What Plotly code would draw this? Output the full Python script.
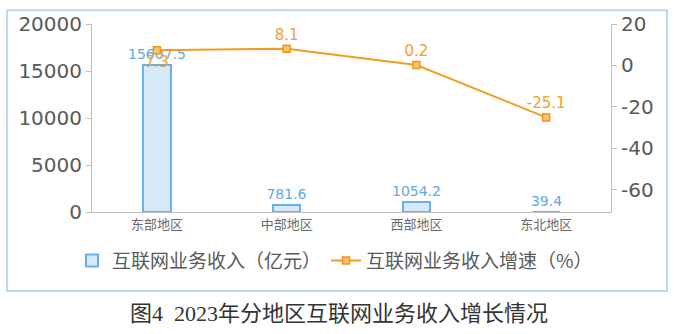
import plotly.graph_objects as go

categories = ["东部地区", "中部地区", "西部地区", "东北地区"]
revenue = [15607.5, 781.6, 1054.2, 39.4]
growth = [7.3, 8.1, 0.2, -25.1]
left_ticks = [0, 5000, 10000, 15000, 20000]
left_tick_labels = ["0", "5000", "10000", "15000", "20000"]
right_ticks = [-60, -40, -20, 0, 20]
right_tick_labels = ["-60", "-40", "-20", "0", "20"]
bar_name = "互联网业务收入（亿元）"
line_name = "互联网业务收入增速（%）"
title_text = "图4  2023年分地区互联网业务收入增长情况"

W, H = 674, 334
L, R, T, B = 92, 611, 19, 212  # plot area in pixels


def px_x(x):
    return (x - L) / (R - L)


def px_y(y):
    return (B - y) / (B - T)


fig = go.Figure()
fig.add_trace(go.Bar(
    x=categories, y=revenue, name=bar_name, width=0.21,
    marker=dict(color="#d7eaf9", line=dict(color="#6cb0e8", width=2)),
    text=[f"{v}" for v in revenue], textposition="outside", cliponaxis=False,
    constraintext="none",
    textfont=dict(family="DejaVu Sans", size=14, color="#5fa8e2"),
))
fig.add_trace(go.Scatter(
    x=categories, y=growth, name=line_name, yaxis="y2",
    mode="lines+markers+text",
    line=dict(color="#f39c1f", width=2),
    marker=dict(symbol="square", size=7, color="#fcc46e", line=dict(color="#f29417", width=1.5)),
    text=[f"{v}" for v in growth],
    textposition=["bottom center", "top center", "top center", "top center"],
    textfont=dict(family="DejaVu Sans", size=15, color="#f0a030"),
    cliponaxis=False,
))

fig.update_layout(
    width=W, height=H, autosize=False,
    margin=dict(l=L, r=W - R, t=T, b=H - B, pad=0),
    paper_bgcolor="white", plot_bgcolor="white",
    showlegend=True,
    bargap=0,
    xaxis=dict(showline=True, linecolor="#bfbfbf", linewidth=1, ticks="",
               tickfont=dict(family="Noto Sans CJK SC", size=13, color="#6a6a6a"),
               showgrid=False, zeroline=False),
    yaxis=dict(range=[0, 20000], tickmode="array", tickvals=left_ticks, ticktext=left_tick_labels,
               showline=True, linecolor="#bfbfbf", linewidth=1,
               ticks="outside", ticklen=5, tickcolor="#bfbfbf", showgrid=False, zeroline=False,
               tickfont=dict(family="DejaVu Sans", size=20, color="#595959")),
    yaxis2=dict(range=[-70.8, 20], tickmode="array", tickvals=right_ticks, ticktext=right_tick_labels,
                overlaying="y", side="right", showline=True,
                linecolor="#bfbfbf", linewidth=1, ticks="outside", ticklen=5, tickcolor="#bfbfbf",
                showgrid=False, zeroline=False,
                tickfont=dict(family="DejaVu Sans", size=20, color="#595959")),
    legend=dict(orientation="h", x=px_x(72), y=px_y(262), xanchor="left", yanchor="middle",
                font=dict(family="Noto Sans CJK SC", size=19, color="#595959"),
                bgcolor="rgba(0,0,0,0)", itemwidth=30, traceorder="normal"),
    shapes=[dict(type="rect", xref="paper", yref="paper",
                 x0=px_x(7), x1=px_x(667), y0=px_y(293), y1=px_y(5),
                 line=dict(color="#bcd8f2", width=2), fillcolor="rgba(0,0,0,0)", layer="below")],
    annotations=[dict(text=title_text, xref="paper", yref="paper", x=px_x(339), y=px_y(316),
                      xanchor="center", yanchor="middle", showarrow=False,
                      font=dict(family="Liberation Serif, Noto Sans CJK SC", size=22, color="#333333"))],
)

fig.write_html("out.html")
